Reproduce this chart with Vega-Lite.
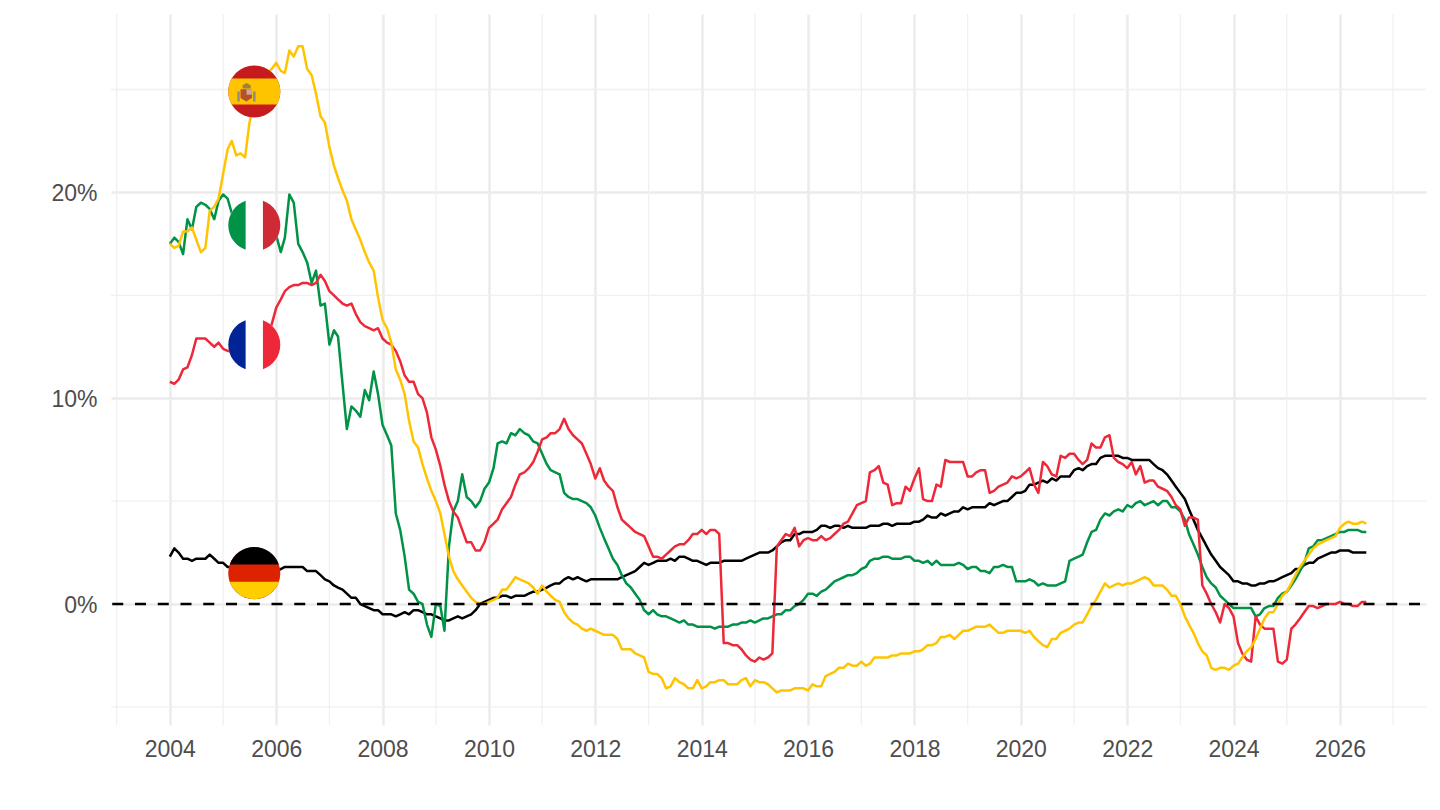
{
  "$schema": "https://vega.github.io/schema/vega-lite/v6.json",
  "autosize": "none",
  "width": 1315,
  "height": 711,
  "padding": {"left": 111, "top": 14, "right": 14, "bottom": 85},
  "background": "white",
  "config": {
    "view": {"stroke": null},
    "font": "Liberation Sans",
    "axis": {"domain": false, "ticks": false, "title": null, "labelColor": "#4d4d4d", "labelFontSize": 23, "gridColor": "#ebebeb", "gridWidth": 2.5}
  },
  "resolve": {"scale": {"color": "independent"}},
  "datasets": {
    "rates": [
      {"d":"2004-01-01","DE":2.3,"FR":10.8,"IT":17.5,"ES":17.5},
      {"d":"2004-02-01","DE":2.7,"FR":10.7,"IT":17.8,"ES":17.3},
      {"d":"2004-03-01","DE":2.5,"FR":10.9,"IT":17.6,"ES":17.4},
      {"d":"2004-04-01","DE":2.2,"FR":11.4,"IT":17.0,"ES":18.1},
      {"d":"2004-05-01","DE":2.2,"FR":11.5,"IT":18.7,"ES":18.1},
      {"d":"2004-06-01","DE":2.1,"FR":12.1,"IT":18.2,"ES":18.3},
      {"d":"2004-07-01","DE":2.2,"FR":12.9,"IT":19.3,"ES":17.7},
      {"d":"2004-08-01","DE":2.2,"FR":12.9,"IT":19.5,"ES":17.1},
      {"d":"2004-09-01","DE":2.2,"FR":12.9,"IT":19.4,"ES":17.3},
      {"d":"2004-10-01","DE":2.4,"FR":12.7,"IT":19.2,"ES":19.1},
      {"d":"2004-11-01","DE":2.2,"FR":12.5,"IT":18.7,"ES":19.3},
      {"d":"2004-12-01","DE":2.0,"FR":12.7,"IT":19.6,"ES":19.7},
      {"d":"2005-01-01","DE":2.0,"FR":12.4,"IT":19.9,"ES":20.9},
      {"d":"2005-02-01","DE":1.8,"FR":12.3,"IT":19.7,"ES":22.1},
      {"d":"2005-03-01","DE":1.8,"FR":12.3,"IT":19.0,"ES":22.5},
      {"d":"2005-04-01","DE":1.7,"FR":12.3,"IT":18.5,"ES":21.8},
      {"d":"2005-05-01","DE":1.6,"FR":12.4,"IT":18.3,"ES":21.9},
      {"d":"2005-06-01","DE":1.6,"FR":12.4,"IT":18.4,"ES":21.7},
      {"d":"2005-07-01","DE":1.6,"FR":12.4,"IT":18.6,"ES":23.4},
      {"d":"2005-08-01","DE":1.5,"FR":12.5,"IT":18.5,"ES":24.3},
      {"d":"2005-09-01","DE":1.5,"FR":12.7,"IT":18.4,"ES":25.0},
      {"d":"2005-10-01","DE":1.5,"FR":13.0,"IT":18.2,"ES":25.4},
      {"d":"2005-11-01","DE":1.5,"FR":13.2,"IT":18.3,"ES":25.8},
      {"d":"2005-12-01","DE":1.5,"FR":13.6,"IT":18.1,"ES":26.0},
      {"d":"2006-01-01","DE":1.6,"FR":14.4,"IT":17.9,"ES":26.3},
      {"d":"2006-02-01","DE":1.7,"FR":14.8,"IT":17.1,"ES":25.9},
      {"d":"2006-03-01","DE":1.8,"FR":15.2,"IT":17.8,"ES":25.8},
      {"d":"2006-04-01","DE":1.8,"FR":15.4,"IT":19.9,"ES":26.9},
      {"d":"2006-05-01","DE":1.8,"FR":15.5,"IT":19.5,"ES":26.6},
      {"d":"2006-06-01","DE":1.8,"FR":15.5,"IT":17.5,"ES":27.1},
      {"d":"2006-07-01","DE":1.8,"FR":15.6,"IT":17.1,"ES":27.1},
      {"d":"2006-08-01","DE":1.6,"FR":15.6,"IT":16.6,"ES":26.0},
      {"d":"2006-09-01","DE":1.6,"FR":15.5,"IT":15.6,"ES":25.7},
      {"d":"2006-10-01","DE":1.6,"FR":15.6,"IT":16.2,"ES":24.8},
      {"d":"2006-11-01","DE":1.4,"FR":16.0,"IT":14.5,"ES":23.7},
      {"d":"2006-12-01","DE":1.2,"FR":15.7,"IT":14.6,"ES":23.4},
      {"d":"2007-01-01","DE":1.1,"FR":15.2,"IT":12.6,"ES":22.2},
      {"d":"2007-02-01","DE":0.9,"FR":15.0,"IT":13.3,"ES":21.3},
      {"d":"2007-03-01","DE":0.8,"FR":14.8,"IT":13.0,"ES":20.7},
      {"d":"2007-04-01","DE":0.7,"FR":14.6,"IT":10.7,"ES":20.1},
      {"d":"2007-05-01","DE":0.5,"FR":14.5,"IT":8.5,"ES":19.6},
      {"d":"2007-06-01","DE":0.3,"FR":14.6,"IT":9.6,"ES":18.7},
      {"d":"2007-07-01","DE":0.3,"FR":14.1,"IT":9.4,"ES":18.2},
      {"d":"2007-08-01","DE":0.0,"FR":13.7,"IT":9.1,"ES":17.7},
      {"d":"2007-09-01","DE":-0.1,"FR":13.5,"IT":10.4,"ES":17.1},
      {"d":"2007-10-01","DE":-0.2,"FR":13.4,"IT":9.9,"ES":16.6},
      {"d":"2007-11-01","DE":-0.3,"FR":13.3,"IT":11.3,"ES":16.2},
      {"d":"2007-12-01","DE":-0.3,"FR":13.4,"IT":10.2,"ES":14.9},
      {"d":"2008-01-01","DE":-0.5,"FR":12.9,"IT":8.7,"ES":13.8},
      {"d":"2008-02-01","DE":-0.5,"FR":12.7,"IT":8.2,"ES":13.4},
      {"d":"2008-03-01","DE":-0.5,"FR":12.6,"IT":7.7,"ES":12.7},
      {"d":"2008-04-01","DE":-0.6,"FR":12.3,"IT":4.4,"ES":11.4},
      {"d":"2008-05-01","DE":-0.5,"FR":11.8,"IT":3.6,"ES":10.9},
      {"d":"2008-06-01","DE":-0.4,"FR":11.1,"IT":2.3,"ES":10.2},
      {"d":"2008-07-01","DE":-0.5,"FR":10.8,"IT":0.7,"ES":8.9},
      {"d":"2008-08-01","DE":-0.3,"FR":10.8,"IT":0.5,"ES":7.9},
      {"d":"2008-09-01","DE":-0.3,"FR":10.2,"IT":0.1,"ES":7.6},
      {"d":"2008-10-01","DE":-0.4,"FR":10.0,"IT":0.0,"ES":6.8},
      {"d":"2008-11-01","DE":-0.5,"FR":9.3,"IT":-1.0,"ES":6.1},
      {"d":"2008-12-01","DE":-0.5,"FR":8.1,"IT":-1.6,"ES":5.5},
      {"d":"2009-01-01","DE":-0.6,"FR":7.5,"IT":0.0,"ES":5.0},
      {"d":"2009-02-01","DE":-0.7,"FR":6.7,"IT":-0.1,"ES":4.4},
      {"d":"2009-03-01","DE":-0.8,"FR":5.8,"IT":-1.3,"ES":3.4},
      {"d":"2009-04-01","DE":-0.8,"FR":5.0,"IT":2.8,"ES":2.3},
      {"d":"2009-05-01","DE":-0.7,"FR":4.5,"IT":4.5,"ES":1.6},
      {"d":"2009-06-01","DE":-0.6,"FR":4.2,"IT":5.0,"ES":1.2},
      {"d":"2009-07-01","DE":-0.7,"FR":3.6,"IT":6.3,"ES":0.9},
      {"d":"2009-08-01","DE":-0.6,"FR":3.0,"IT":5.2,"ES":0.6},
      {"d":"2009-09-01","DE":-0.5,"FR":3.0,"IT":5.0,"ES":0.3},
      {"d":"2009-10-01","DE":-0.3,"FR":2.6,"IT":4.7,"ES":0.1},
      {"d":"2009-11-01","DE":0.0,"FR":2.6,"IT":5.0,"ES":0.0},
      {"d":"2009-12-01","DE":0.1,"FR":3.0,"IT":5.6,"ES":0.0},
      {"d":"2010-01-01","DE":0.2,"FR":3.7,"IT":5.9,"ES":0.1},
      {"d":"2010-02-01","DE":0.3,"FR":3.9,"IT":6.6,"ES":0.2},
      {"d":"2010-03-01","DE":0.3,"FR":4.1,"IT":7.8,"ES":0.3},
      {"d":"2010-04-01","DE":0.4,"FR":4.6,"IT":7.9,"ES":0.7},
      {"d":"2010-05-01","DE":0.4,"FR":4.9,"IT":7.8,"ES":0.7},
      {"d":"2010-06-01","DE":0.3,"FR":5.2,"IT":8.3,"ES":1.0},
      {"d":"2010-07-01","DE":0.4,"FR":5.8,"IT":8.2,"ES":1.3},
      {"d":"2010-08-01","DE":0.4,"FR":6.3,"IT":8.5,"ES":1.2},
      {"d":"2010-09-01","DE":0.4,"FR":6.4,"IT":8.3,"ES":1.1},
      {"d":"2010-10-01","DE":0.5,"FR":6.6,"IT":8.2,"ES":1.0},
      {"d":"2010-11-01","DE":0.6,"FR":6.9,"IT":7.9,"ES":0.8},
      {"d":"2010-12-01","DE":0.6,"FR":7.4,"IT":7.8,"ES":0.5},
      {"d":"2011-01-01","DE":0.7,"FR":8.0,"IT":7.3,"ES":0.9},
      {"d":"2011-02-01","DE":0.8,"FR":8.1,"IT":6.8,"ES":0.6},
      {"d":"2011-03-01","DE":0.9,"FR":8.3,"IT":6.5,"ES":0.4},
      {"d":"2011-04-01","DE":1.0,"FR":8.3,"IT":6.4,"ES":0.2},
      {"d":"2011-05-01","DE":1.0,"FR":8.5,"IT":6.3,"ES":0.1},
      {"d":"2011-06-01","DE":1.2,"FR":9.0,"IT":5.4,"ES":-0.4},
      {"d":"2011-07-01","DE":1.3,"FR":8.5,"IT":5.2,"ES":-0.7},
      {"d":"2011-08-01","DE":1.2,"FR":8.2,"IT":5.1,"ES":-0.9},
      {"d":"2011-09-01","DE":1.3,"FR":8.0,"IT":5.1,"ES":-1.0},
      {"d":"2011-10-01","DE":1.2,"FR":7.8,"IT":5.0,"ES":-1.2},
      {"d":"2011-11-01","DE":1.1,"FR":7.3,"IT":4.9,"ES":-1.3},
      {"d":"2011-12-01","DE":1.2,"FR":6.8,"IT":4.7,"ES":-1.2},
      {"d":"2012-01-01","DE":1.2,"FR":6.1,"IT":4.3,"ES":-1.3},
      {"d":"2012-02-01","DE":1.2,"FR":6.6,"IT":3.7,"ES":-1.4},
      {"d":"2012-03-01","DE":1.2,"FR":6.0,"IT":3.2,"ES":-1.5},
      {"d":"2012-04-01","DE":1.2,"FR":5.7,"IT":2.7,"ES":-1.5},
      {"d":"2012-05-01","DE":1.2,"FR":5.5,"IT":2.2,"ES":-1.5},
      {"d":"2012-06-01","DE":1.2,"FR":4.7,"IT":1.9,"ES":-1.7},
      {"d":"2012-07-01","DE":1.3,"FR":4.1,"IT":1.4,"ES":-2.2},
      {"d":"2012-08-01","DE":1.4,"FR":3.9,"IT":1.0,"ES":-2.2},
      {"d":"2012-09-01","DE":1.5,"FR":3.7,"IT":0.8,"ES":-2.2},
      {"d":"2012-10-01","DE":1.6,"FR":3.5,"IT":0.5,"ES":-2.4},
      {"d":"2012-11-01","DE":1.8,"FR":3.4,"IT":0.2,"ES":-2.5},
      {"d":"2012-12-01","DE":2.0,"FR":3.3,"IT":-0.3,"ES":-2.6},
      {"d":"2013-01-01","DE":1.9,"FR":2.8,"IT":-0.5,"ES":-3.3},
      {"d":"2013-02-01","DE":2.0,"FR":2.3,"IT":-0.3,"ES":-3.4},
      {"d":"2013-03-01","DE":2.1,"FR":2.3,"IT":-0.5,"ES":-3.4},
      {"d":"2013-04-01","DE":2.1,"FR":2.2,"IT":-0.6,"ES":-3.6},
      {"d":"2013-05-01","DE":2.1,"FR":2.4,"IT":-0.6,"ES":-4.1},
      {"d":"2013-06-01","DE":2.2,"FR":2.6,"IT":-0.7,"ES":-4.0},
      {"d":"2013-07-01","DE":2.1,"FR":2.8,"IT":-0.8,"ES":-3.6},
      {"d":"2013-08-01","DE":2.3,"FR":2.9,"IT":-0.9,"ES":-3.8},
      {"d":"2013-09-01","DE":2.3,"FR":2.9,"IT":-0.8,"ES":-3.9},
      {"d":"2013-10-01","DE":2.2,"FR":3.1,"IT":-1.0,"ES":-4.1},
      {"d":"2013-11-01","DE":2.1,"FR":3.4,"IT":-1.0,"ES":-4.1},
      {"d":"2013-12-01","DE":2.1,"FR":3.4,"IT":-1.1,"ES":-3.7},
      {"d":"2014-01-01","DE":2.0,"FR":3.6,"IT":-1.1,"ES":-4.1},
      {"d":"2014-02-01","DE":1.9,"FR":3.4,"IT":-1.1,"ES":-4.0},
      {"d":"2014-03-01","DE":2.0,"FR":3.6,"IT":-1.1,"ES":-3.8},
      {"d":"2014-04-01","DE":2.0,"FR":3.6,"IT":-1.2,"ES":-3.8},
      {"d":"2014-05-01","DE":2.0,"FR":3.4,"IT":-1.1,"ES":-3.7},
      {"d":"2014-06-01","DE":2.1,"FR":-1.9,"IT":-1.1,"ES":-3.7},
      {"d":"2014-07-01","DE":2.1,"FR":-1.9,"IT":-1.1,"ES":-3.9},
      {"d":"2014-08-01","DE":2.1,"FR":-2.0,"IT":-1.0,"ES":-3.9},
      {"d":"2014-09-01","DE":2.1,"FR":-2.0,"IT":-1.0,"ES":-3.9},
      {"d":"2014-10-01","DE":2.1,"FR":-2.2,"IT":-0.9,"ES":-3.7},
      {"d":"2014-11-01","DE":2.2,"FR":-2.5,"IT":-0.9,"ES":-3.6},
      {"d":"2014-12-01","DE":2.3,"FR":-2.7,"IT":-0.8,"ES":-4.0},
      {"d":"2015-01-01","DE":2.4,"FR":-2.8,"IT":-0.9,"ES":-3.7},
      {"d":"2015-02-01","DE":2.5,"FR":-2.6,"IT":-0.8,"ES":-3.8},
      {"d":"2015-03-01","DE":2.5,"FR":-2.7,"IT":-0.7,"ES":-3.8},
      {"d":"2015-04-01","DE":2.5,"FR":-2.6,"IT":-0.7,"ES":-3.9},
      {"d":"2015-05-01","DE":2.6,"FR":-2.4,"IT":-0.6,"ES":-4.1},
      {"d":"2015-06-01","DE":2.8,"FR":2.8,"IT":-0.5,"ES":-4.3},
      {"d":"2015-07-01","DE":3.0,"FR":3.1,"IT":-0.5,"ES":-4.2},
      {"d":"2015-08-01","DE":3.1,"FR":3.4,"IT":-0.3,"ES":-4.2},
      {"d":"2015-09-01","DE":3.1,"FR":3.3,"IT":-0.3,"ES":-4.2},
      {"d":"2015-10-01","DE":3.4,"FR":3.7,"IT":-0.1,"ES":-4.1},
      {"d":"2015-11-01","DE":3.4,"FR":2.8,"IT":0.0,"ES":-4.1},
      {"d":"2015-12-01","DE":3.5,"FR":3.1,"IT":0.2,"ES":-4.1},
      {"d":"2016-01-01","DE":3.5,"FR":3.2,"IT":0.5,"ES":-4.2},
      {"d":"2016-02-01","DE":3.5,"FR":3.1,"IT":0.5,"ES":-3.9},
      {"d":"2016-03-01","DE":3.6,"FR":3.1,"IT":0.4,"ES":-4.0},
      {"d":"2016-04-01","DE":3.8,"FR":3.3,"IT":0.6,"ES":-4.0},
      {"d":"2016-05-01","DE":3.8,"FR":3.1,"IT":0.7,"ES":-3.5},
      {"d":"2016-06-01","DE":3.7,"FR":3.2,"IT":0.9,"ES":-3.4},
      {"d":"2016-07-01","DE":3.8,"FR":3.4,"IT":1.1,"ES":-3.3},
      {"d":"2016-08-01","DE":3.8,"FR":3.6,"IT":1.2,"ES":-3.1},
      {"d":"2016-09-01","DE":3.7,"FR":3.9,"IT":1.3,"ES":-3.1},
      {"d":"2016-10-01","DE":3.8,"FR":4.0,"IT":1.4,"ES":-2.9},
      {"d":"2016-11-01","DE":3.7,"FR":4.4,"IT":1.4,"ES":-3.0},
      {"d":"2016-12-01","DE":3.7,"FR":4.8,"IT":1.5,"ES":-3.0},
      {"d":"2017-01-01","DE":3.7,"FR":4.9,"IT":1.7,"ES":-2.8},
      {"d":"2017-02-01","DE":3.7,"FR":5.0,"IT":1.8,"ES":-3.0},
      {"d":"2017-03-01","DE":3.8,"FR":6.4,"IT":2.1,"ES":-2.9},
      {"d":"2017-04-01","DE":3.8,"FR":6.5,"IT":2.2,"ES":-2.6},
      {"d":"2017-05-01","DE":3.8,"FR":6.7,"IT":2.2,"ES":-2.6},
      {"d":"2017-06-01","DE":3.9,"FR":5.9,"IT":2.3,"ES":-2.6},
      {"d":"2017-07-01","DE":3.9,"FR":5.8,"IT":2.3,"ES":-2.6},
      {"d":"2017-08-01","DE":3.8,"FR":4.8,"IT":2.2,"ES":-2.5},
      {"d":"2017-09-01","DE":3.9,"FR":4.9,"IT":2.2,"ES":-2.5},
      {"d":"2017-10-01","DE":3.9,"FR":4.9,"IT":2.2,"ES":-2.4},
      {"d":"2017-11-01","DE":3.9,"FR":5.7,"IT":2.3,"ES":-2.4},
      {"d":"2017-12-01","DE":3.9,"FR":5.5,"IT":2.3,"ES":-2.4},
      {"d":"2018-01-01","DE":4.0,"FR":6.1,"IT":2.1,"ES":-2.3},
      {"d":"2018-02-01","DE":4.0,"FR":6.6,"IT":2.1,"ES":-2.3},
      {"d":"2018-03-01","DE":4.1,"FR":5.1,"IT":2.0,"ES":-2.2},
      {"d":"2018-04-01","DE":4.3,"FR":5.0,"IT":2.1,"ES":-2.0},
      {"d":"2018-05-01","DE":4.2,"FR":5.0,"IT":1.9,"ES":-2.0},
      {"d":"2018-06-01","DE":4.2,"FR":5.8,"IT":2.1,"ES":-1.9},
      {"d":"2018-07-01","DE":4.4,"FR":5.7,"IT":1.9,"ES":-1.6},
      {"d":"2018-08-01","DE":4.3,"FR":7.0,"IT":1.9,"ES":-1.6},
      {"d":"2018-09-01","DE":4.4,"FR":6.9,"IT":1.9,"ES":-1.5},
      {"d":"2018-10-01","DE":4.5,"FR":6.9,"IT":1.9,"ES":-1.7},
      {"d":"2018-11-01","DE":4.5,"FR":6.9,"IT":2.0,"ES":-1.5},
      {"d":"2018-12-01","DE":4.7,"FR":6.9,"IT":1.9,"ES":-1.3},
      {"d":"2019-01-01","DE":4.6,"FR":6.2,"IT":1.7,"ES":-1.3},
      {"d":"2019-02-01","DE":4.7,"FR":6.2,"IT":1.8,"ES":-1.2},
      {"d":"2019-03-01","DE":4.7,"FR":6.4,"IT":1.8,"ES":-1.1},
      {"d":"2019-04-01","DE":4.7,"FR":6.5,"IT":1.6,"ES":-1.1},
      {"d":"2019-05-01","DE":4.7,"FR":6.5,"IT":1.6,"ES":-1.1},
      {"d":"2019-06-01","DE":4.9,"FR":5.4,"IT":1.5,"ES":-1.0},
      {"d":"2019-07-01","DE":4.8,"FR":5.5,"IT":1.8,"ES":-1.2},
      {"d":"2019-08-01","DE":4.9,"FR":5.7,"IT":1.8,"ES":-1.4},
      {"d":"2019-09-01","DE":5.0,"FR":5.8,"IT":1.9,"ES":-1.4},
      {"d":"2019-10-01","DE":5.0,"FR":5.9,"IT":1.8,"ES":-1.3},
      {"d":"2019-11-01","DE":5.2,"FR":6.2,"IT":1.8,"ES":-1.3},
      {"d":"2019-12-01","DE":5.4,"FR":6.1,"IT":1.1,"ES":-1.3},
      {"d":"2020-01-01","DE":5.4,"FR":6.2,"IT":1.1,"ES":-1.3},
      {"d":"2020-02-01","DE":5.5,"FR":6.4,"IT":1.1,"ES":-1.4},
      {"d":"2020-03-01","DE":5.8,"FR":6.6,"IT":1.2,"ES":-1.3},
      {"d":"2020-04-01","DE":5.8,"FR":5.8,"IT":1.1,"ES":-1.6},
      {"d":"2020-05-01","DE":5.9,"FR":5.4,"IT":0.9,"ES":-1.8},
      {"d":"2020-06-01","DE":6.0,"FR":6.9,"IT":1.0,"ES":-2.0},
      {"d":"2020-07-01","DE":5.9,"FR":6.7,"IT":0.9,"ES":-2.1},
      {"d":"2020-08-01","DE":6.1,"FR":6.3,"IT":0.9,"ES":-1.7},
      {"d":"2020-09-01","DE":6.0,"FR":6.2,"IT":0.9,"ES":-1.7},
      {"d":"2020-10-01","DE":6.2,"FR":7.2,"IT":1.0,"ES":-1.4},
      {"d":"2020-11-01","DE":6.2,"FR":7.1,"IT":1.1,"ES":-1.3},
      {"d":"2020-12-01","DE":6.2,"FR":7.3,"IT":2.1,"ES":-1.2},
      {"d":"2021-01-01","DE":6.5,"FR":7.3,"IT":2.2,"ES":-1.0},
      {"d":"2021-02-01","DE":6.6,"FR":7.0,"IT":2.3,"ES":-0.9},
      {"d":"2021-03-01","DE":6.5,"FR":6.8,"IT":2.4,"ES":-0.9},
      {"d":"2021-04-01","DE":6.7,"FR":7.0,"IT":3.0,"ES":-0.5},
      {"d":"2021-05-01","DE":6.8,"FR":7.8,"IT":3.5,"ES":-0.1},
      {"d":"2021-06-01","DE":6.8,"FR":7.6,"IT":3.6,"ES":0.2},
      {"d":"2021-07-01","DE":7.1,"FR":7.6,"IT":4.1,"ES":0.6},
      {"d":"2021-08-01","DE":7.2,"FR":8.1,"IT":4.4,"ES":1.0},
      {"d":"2021-09-01","DE":7.2,"FR":8.2,"IT":4.3,"ES":0.8},
      {"d":"2021-10-01","DE":7.2,"FR":7.1,"IT":4.5,"ES":0.9},
      {"d":"2021-11-01","DE":7.2,"FR":6.9,"IT":4.6,"ES":1.0},
      {"d":"2021-12-01","DE":7.1,"FR":6.8,"IT":4.5,"ES":0.9},
      {"d":"2022-01-01","DE":7.1,"FR":6.6,"IT":4.8,"ES":1.0},
      {"d":"2022-02-01","DE":7.0,"FR":6.9,"IT":4.7,"ES":1.0},
      {"d":"2022-03-01","DE":7.0,"FR":6.3,"IT":4.9,"ES":1.1},
      {"d":"2022-04-01","DE":7.0,"FR":6.7,"IT":5.0,"ES":1.2},
      {"d":"2022-05-01","DE":7.0,"FR":5.9,"IT":4.8,"ES":1.3},
      {"d":"2022-06-01","DE":7.0,"FR":6.0,"IT":4.9,"ES":1.2},
      {"d":"2022-07-01","DE":6.8,"FR":6.0,"IT":5.0,"ES":0.9},
      {"d":"2022-08-01","DE":6.6,"FR":5.7,"IT":4.8,"ES":0.9},
      {"d":"2022-09-01","DE":6.5,"FR":5.6,"IT":5.0,"ES":0.9},
      {"d":"2022-10-01","DE":6.3,"FR":5.5,"IT":5.0,"ES":0.7},
      {"d":"2022-11-01","DE":6.0,"FR":5.2,"IT":4.7,"ES":0.4},
      {"d":"2022-12-01","DE":5.7,"FR":4.8,"IT":4.7,"ES":0.4},
      {"d":"2023-01-01","DE":5.4,"FR":4.6,"IT":4.5,"ES":0.0},
      {"d":"2023-02-01","DE":5.1,"FR":3.8,"IT":4.1,"ES":-0.6},
      {"d":"2023-03-01","DE":4.6,"FR":4.2,"IT":3.4,"ES":-1.0},
      {"d":"2023-04-01","DE":4.1,"FR":4.2,"IT":2.9,"ES":-1.4},
      {"d":"2023-05-01","DE":3.6,"FR":4.1,"IT":2.4,"ES":-1.9},
      {"d":"2023-06-01","DE":3.2,"FR":0.9,"IT":1.8,"ES":-2.3},
      {"d":"2023-07-01","DE":2.8,"FR":0.5,"IT":1.3,"ES":-2.5},
      {"d":"2023-08-01","DE":2.4,"FR":0.0,"IT":1.0,"ES":-3.1},
      {"d":"2023-09-01","DE":2.1,"FR":-0.4,"IT":0.8,"ES":-3.2},
      {"d":"2023-10-01","DE":1.8,"FR":-0.9,"IT":0.4,"ES":-3.1},
      {"d":"2023-11-01","DE":1.6,"FR":0.0,"IT":0.2,"ES":-3.1},
      {"d":"2023-12-01","DE":1.4,"FR":-0.2,"IT":0.0,"ES":-3.2},
      {"d":"2024-01-01","DE":1.1,"FR":-0.6,"IT":-0.2,"ES":-3.0},
      {"d":"2024-02-01","DE":1.1,"FR":-1.9,"IT":-0.2,"ES":-2.9},
      {"d":"2024-03-01","DE":1.0,"FR":-2.4,"IT":-0.2,"ES":-2.6},
      {"d":"2024-04-01","DE":1.0,"FR":-2.7,"IT":-0.2,"ES":-2.3},
      {"d":"2024-05-01","DE":0.9,"FR":-2.8,"IT":-0.2,"ES":-2.1},
      {"d":"2024-06-01","DE":0.9,"FR":-0.6,"IT":-0.6,"ES":-1.7},
      {"d":"2024-07-01","DE":1.0,"FR":-1.0,"IT":-0.5,"ES":-1.2},
      {"d":"2024-08-01","DE":1.0,"FR":-1.2,"IT":-0.2,"ES":-0.7},
      {"d":"2024-09-01","DE":1.1,"FR":-1.2,"IT":-0.1,"ES":-0.4},
      {"d":"2024-10-01","DE":1.1,"FR":-1.2,"IT":-0.1,"ES":-0.4},
      {"d":"2024-11-01","DE":1.2,"FR":-2.8,"IT":0.3,"ES":0.0},
      {"d":"2024-12-01","DE":1.3,"FR":-2.9,"IT":0.5,"ES":0.4},
      {"d":"2025-01-01","DE":1.4,"FR":-2.7,"IT":0.6,"ES":0.6},
      {"d":"2025-02-01","DE":1.5,"FR":-1.2,"IT":0.9,"ES":1.0},
      {"d":"2025-03-01","DE":1.7,"FR":-1.0,"IT":1.2,"ES":1.4},
      {"d":"2025-04-01","DE":1.7,"FR":-0.7,"IT":1.6,"ES":1.8},
      {"d":"2025-05-01","DE":1.9,"FR":-0.4,"IT":2.0,"ES":2.1},
      {"d":"2025-06-01","DE":2.0,"FR":-0.1,"IT":2.7,"ES":2.4},
      {"d":"2025-07-01","DE":2.0,"FR":-0.1,"IT":2.8,"ES":2.7},
      {"d":"2025-08-01","DE":2.2,"FR":-0.2,"IT":3.1,"ES":2.9},
      {"d":"2025-09-01","DE":2.3,"FR":-0.1,"IT":3.1,"ES":3.0},
      {"d":"2025-10-01","DE":2.4,"FR":0.0,"IT":3.2,"ES":3.1},
      {"d":"2025-11-01","DE":2.5,"FR":0.0,"IT":3.3,"ES":3.2},
      {"d":"2025-12-01","DE":2.5,"FR":0.0,"IT":3.4,"ES":3.3},
      {"d":"2026-01-01","DE":2.6,"FR":0.1,"IT":3.5,"ES":3.7},
      {"d":"2026-02-01","DE":2.6,"FR":0.0,"IT":3.5,"ES":3.9},
      {"d":"2026-03-01","DE":2.6,"FR":0.0,"IT":3.6,"ES":4.0},
      {"d":"2026-04-01","DE":2.5,"FR":-0.1,"IT":3.6,"ES":3.9},
      {"d":"2026-05-01","DE":2.5,"FR":-0.1,"IT":3.6,"ES":3.9},
      {"d":"2026-06-01","DE":2.5,"FR":0.1,"IT":3.5,"ES":4.0},
      {"d":"2026-07-01","DE":2.5,"FR":0.1,"IT":3.5,"ES":3.9}
    ],
    "minorYears": [
      {"d":"2003-01-01"},{"d":"2005-01-01"},{"d":"2007-01-01"},{"d":"2009-01-01"},{"d":"2011-01-01"},{"d":"2013-01-01"},{"d":"2015-01-01"},
      {"d":"2017-01-01"},{"d":"2019-01-01"},{"d":"2021-01-01"},{"d":"2023-01-01"},{"d":"2025-01-01"},{"d":"2027-01-01"}
    ],
    "minorLevels": [{"v":-5},{"v":5},{"v":15},{"v":25}],
    "flags": [
      {"d":"2005-08-03","v":24.9,"part":"es base"},
      {"d":"2005-08-03","v":24.9,"part":"es band"},
      {"d":"2005-08-03","v":24.9,"part":"es crown"},
      {"d":"2005-08-03","v":24.9,"part":"es shield"},
      {"d":"2005-08-03","v":24.9,"part":"es quarter"},
      {"d":"2005-08-03","v":24.9,"part":"es pillars"},
      {"d":"2005-08-03","v":18.4,"part":"it base"},
      {"d":"2005-08-03","v":18.4,"part":"it left"},
      {"d":"2005-08-03","v":18.4,"part":"it right"},
      {"d":"2005-08-03","v":12.6,"part":"fr base"},
      {"d":"2005-08-03","v":12.6,"part":"fr left"},
      {"d":"2005-08-03","v":12.6,"part":"fr right"},
      {"d":"2005-08-03","v":1.5,"part":"de base"},
      {"d":"2005-08-03","v":1.5,"part":"de top"},
      {"d":"2005-08-03","v":1.5,"part":"de bottom"}
    ]
  },
  "layer": [
    {
      "data": {"name": "minorYears"},
      "mark": {"type": "rule", "color": "#f0f0f0", "strokeWidth": 1.3},
      "encoding": {
        "x": {"field": "d", "type": "temporal", "scale": {"type": "utc", "domain": [{"year":2002,"month":11,"date":23,"utc":true},{"year":2027,"month":8,"date":15,"utc":true}]}, "axis": {"grid": true, "format": "%Y", "formatType": "utc", "tickCount": {"interval": "year", "step": 2}, "labelPadding": 13}}
      }
    },
    {
      "data": {"name": "minorLevels"},
      "mark": {"type": "rule", "color": "#f0f0f0", "strokeWidth": 1.3},
      "encoding": {
        "y": {"field": "v", "type": "quantitative", "scale": {"domain": [-5.88, 28.67], "nice": false, "zero": false}, "axis": {"grid": true, "values": [0, 10, 20], "labelExpr": "datum.value + '%'", "labelPadding": 14, "labelOffset": 1.5}}
      }
    },
    {
      "data": {"name": "rates"},
      "transform": [{"fold": ["DE", "IT", "FR", "ES"], "as": ["country", "rate"]}],
      "mark": {"type": "line", "strokeWidth": 2.5, "strokeJoin": "round"},
      "encoding": {
        "x": {"field": "d", "type": "temporal"},
        "y": {"field": "rate", "type": "quantitative"},
        "color": {"field": "country", "type": "nominal", "legend": null, "scale": {"domain": ["DE", "IT", "FR", "ES"], "range": ["#000000", "#009246", "#ED2939", "#FFC400"]}}
      }
    },
    {
      "data": {"values": [{"level": 0}]},
      "mark": {"type": "rule", "color": "#000000", "strokeWidth": 2.5, "strokeDash": [11, 11.75], "strokeDashOffset": 16.75},
      "encoding": {"y": {"field": "level", "type": "quantitative"}}
    },
    {
      "data": {"name": "flags"},
      "mark": {"type": "point", "filled": true, "opacity": 1, "strokeWidth": 0},
      "encoding": {
        "x": {"field": "d", "type": "temporal"},
        "y": {"field": "v", "type": "quantitative"},
        "size": {"value": 2704},
        "color": {
          "field": "part", "type": "nominal", "legend": null,
          "scale": {
            "domain": ["es base","es band","es crown","es shield","es quarter","es pillars","it base","it left","it right","fr base","fr left","fr right","de base","de top","de bottom"],
            "range": ["#C61A1E","#FFC400","#A0803A","#B5502A","#C8A8A0","#8E8E80","#FFFFFF","#009246","#CE2B37","#FFFFFF","#002395","#ED2939","#DD2200","#000000","#FFCE00"]
          }
        },
        "shape": {
          "field": "part", "type": "nominal", "legend": null,
          "scale": {
            "domain": ["es base","es band","es crown","es shield","es quarter","es pillars","it base","it left","it right","fr base","fr left","fr right","de base","de top","de bottom"],
            "range": [
              "M-1,0A1,1,0,1,1,1,0A1,1,0,1,1,-1,0Z",
              "M-0.866,-0.5L0.866,-0.5A1,1,0,0,1,0.866,0.5L-0.866,0.5A1,1,0,0,1,-0.866,-0.5Z",
              "M-0.45,-0.12L-0.45,-0.24L-0.3,-0.33L-0.14,-0.24L-0.14,-0.12Z",
              "M-0.53,-0.09L-0.09,-0.09L-0.09,0.25L-0.31,0.38L-0.53,0.25Z",
              "M-0.3,-0.09L-0.09,-0.09L-0.09,0.12L-0.3,0.12Z",
              "M-0.65,0L-0.56,0L-0.56,0.38L-0.65,0.38ZM-0.05,0L0.05,0L0.05,0.38L-0.05,0.38Z",
              "M-1,0A1,1,0,1,1,1,0A1,1,0,1,1,-1,0Z",
              "M-0.333,-0.943A1,1,0,0,0,-0.333,0.943Z",
              "M0.333,-0.943A1,1,0,0,1,0.333,0.943Z",
              "M-1,0A1,1,0,1,1,1,0A1,1,0,1,1,-1,0Z",
              "M-0.333,-0.943A1,1,0,0,0,-0.333,0.943Z",
              "M0.333,-0.943A1,1,0,0,1,0.333,0.943Z",
              "M-1,0A1,1,0,1,1,1,0A1,1,0,1,1,-1,0Z",
              "M-0.943,-0.333A1,1,0,0,1,0.943,-0.333Z",
              "M-0.943,0.333A1,1,0,0,0,0.943,0.333Z"
            ]
          }
        }
      }
    }
  ]
}
